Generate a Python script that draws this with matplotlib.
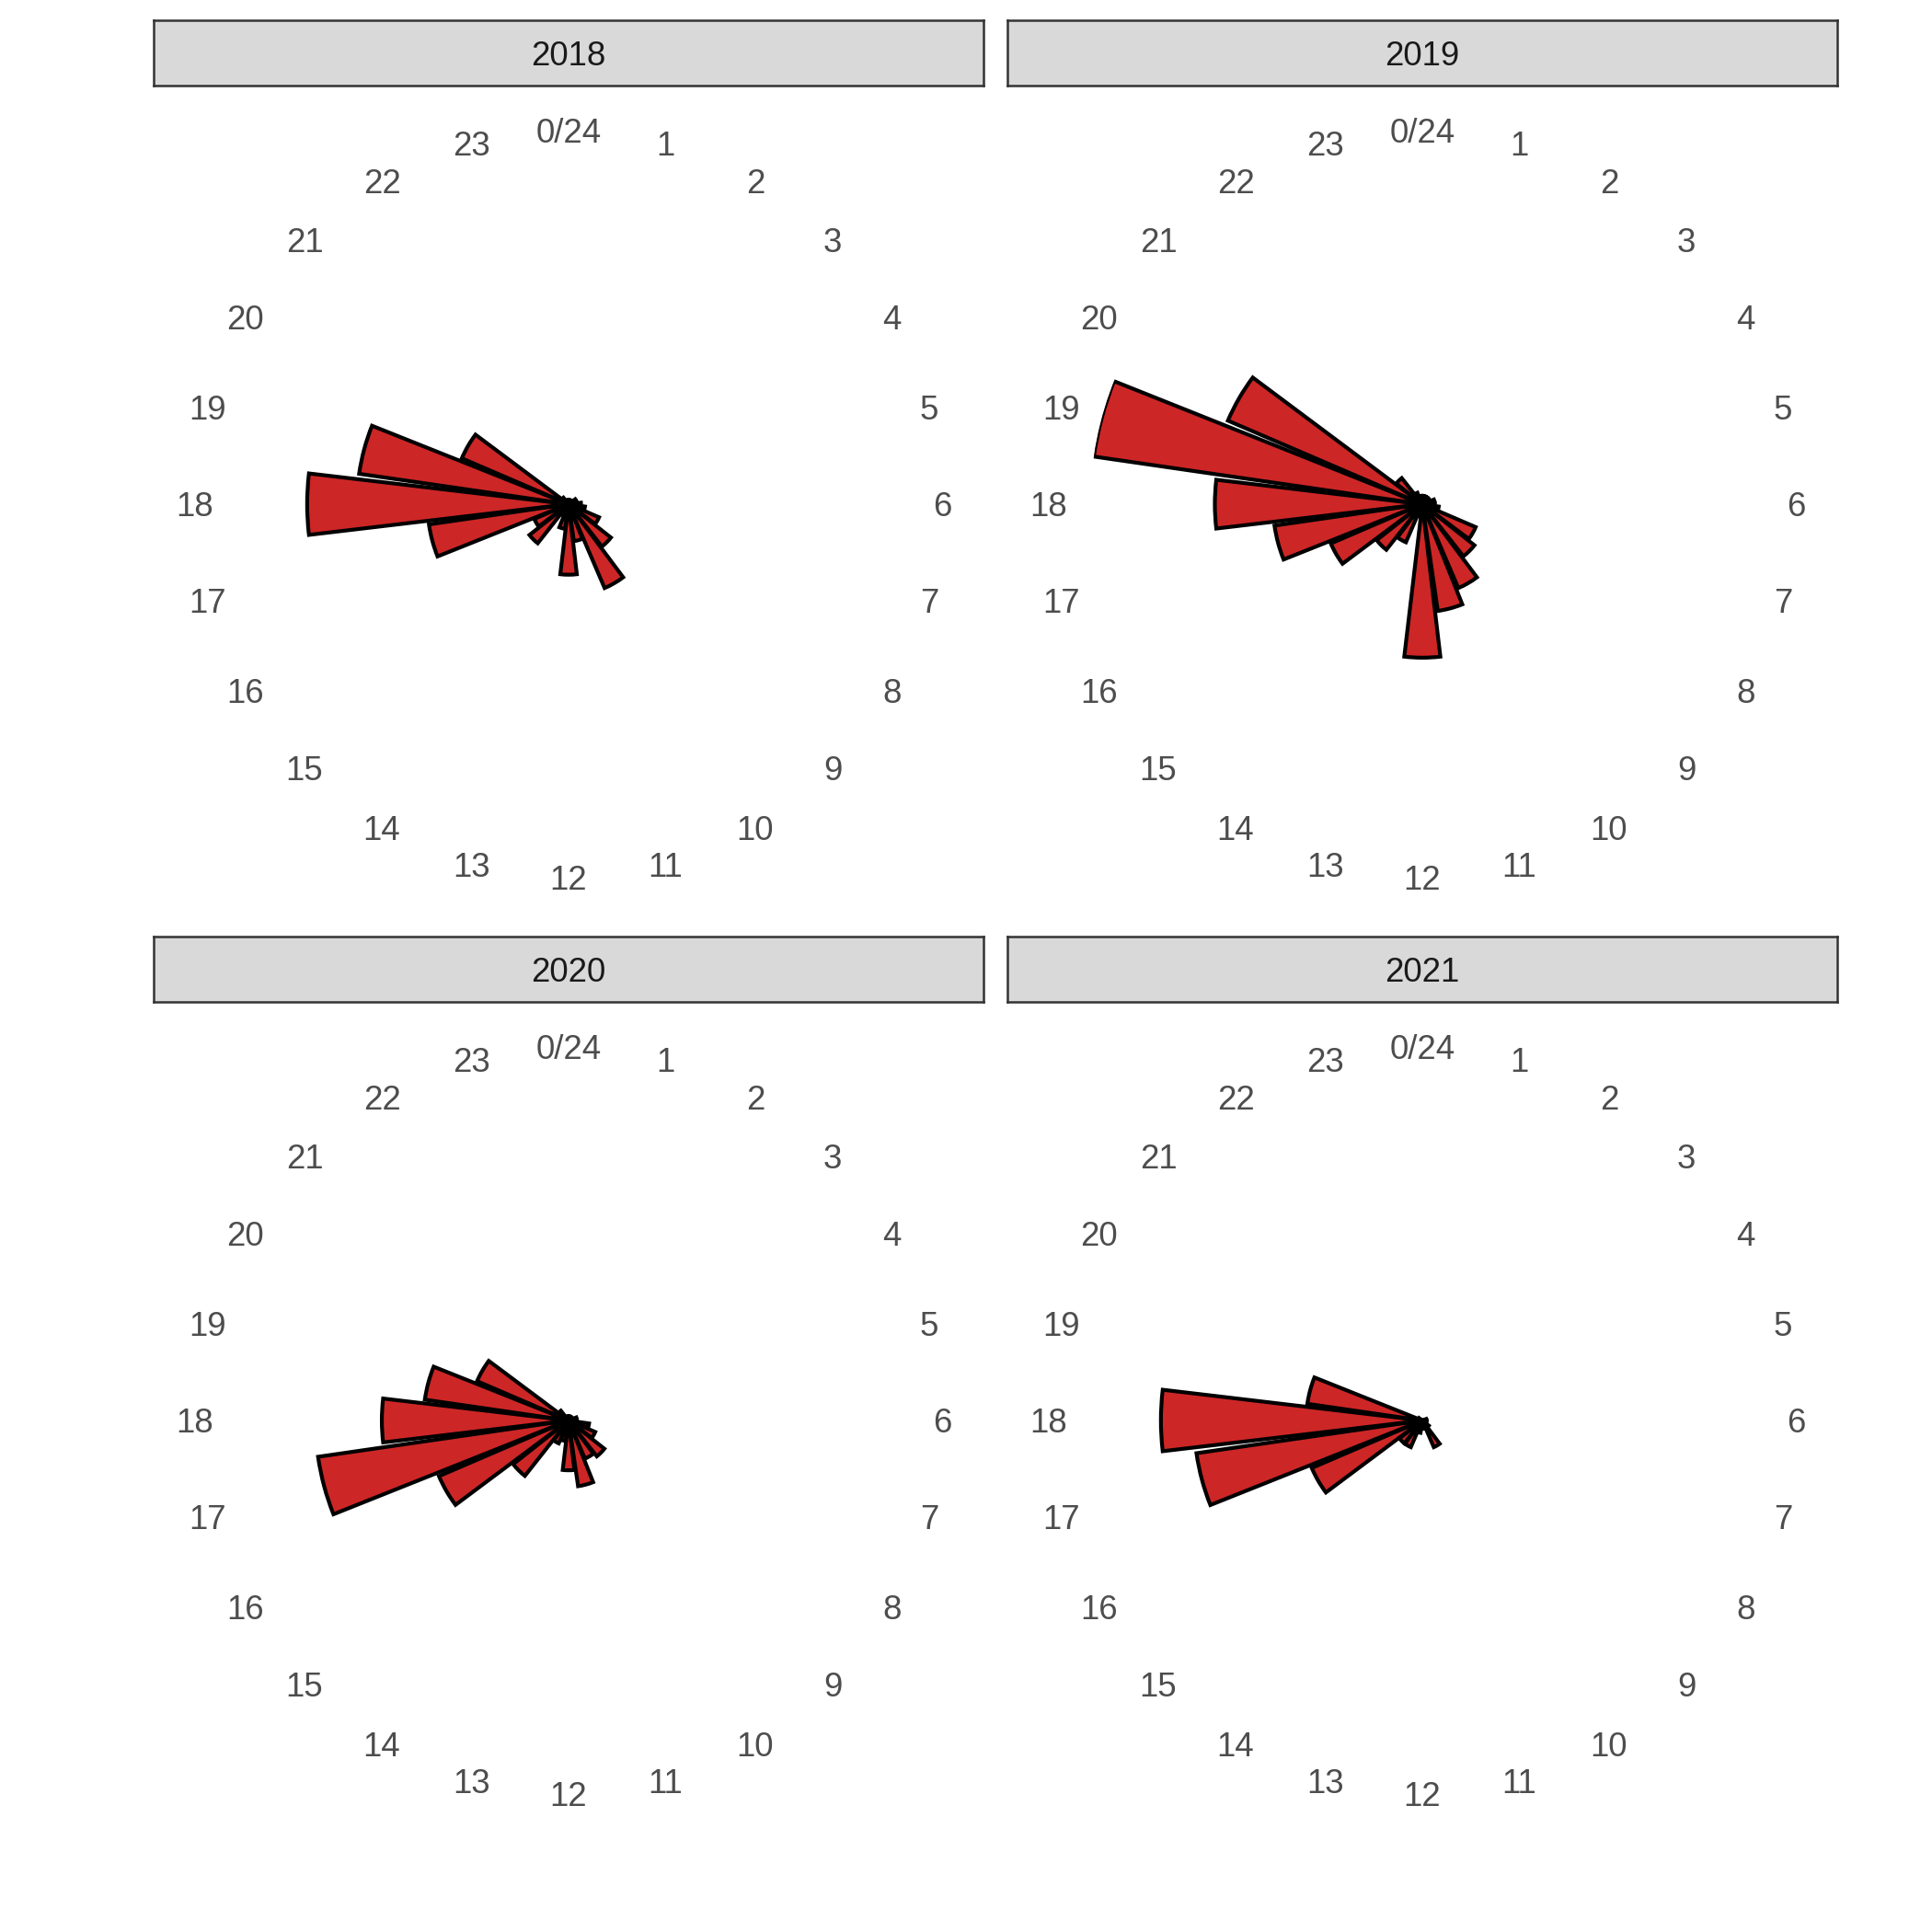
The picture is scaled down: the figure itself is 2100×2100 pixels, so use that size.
import matplotlib.pyplot as plt
import matplotlib.transforms as mtransforms
import numpy as np

plt.rcParams['font.family'] = ['Liberation Sans', 'DejaVu Sans']

# hourly counts per year (hour 0..23)
hours = np.arange(24)
hour_labels = ['0/24'] + [str(h) for h in range(1, 24)]
years = ['2018', '2019', '2020', '2021']

counts_2018 = [1, 1, 1, 1, 2, 2, 3, 4, 8, 13, 22, 9, 17, 6, 3, 12, 9, 34, 63, 51, 28, 2, 1, 1]
counts_2019 = [2, 2, 2, 2, 2, 3, 3, 4, 14, 16, 22, 26, 37, 3, 10, 14, 24, 36, 50, 80, 51, 8, 3, 2]
counts_2020 = [1, 1, 1, 1, 1, 2, 2, 5, 7, 11, 10, 16, 12, 5, 6, 17, 34, 61, 45, 35, 24, 3, 1, 1]
counts_2021 = [0, 0, 0, 0, 0, 1, 1, 1, 1, 2, 7, 1, 2, 3, 7, 7, 29, 55, 63, 28, 1, 0, 0, 0]

all_counts = [counts_2018, counts_2019, counts_2020, counts_2021]
ymax = max(max(c) for c in all_counts)

fig = plt.figure(figsize=(7, 7), dpi=300)

# panel geometry in figure fractions
W = 902 / 2100
lefts = [167 / 2100, 1095 / 2100]
strip_tops = [22 / 2100, 1018 / 2100]
strip_h = 71 / 2100
gap = 4 / 2100

theta = hours * 2 * np.pi / 24
bar_w = 0.9 * 2 * np.pi / 24
fs = 8.8
half_cap = 0.716 * fs / 2  # points

for i, (year, counts) in enumerate(zip(years, all_counts)):
    col = i % 2
    row = i // 2
    x0 = lefts[col]
    strip_bottom = 1 - strip_tops[row] - strip_h
    y0 = strip_bottom - gap - W

    # strip on top of the panel
    sax = fig.add_axes([x0, strip_bottom, W, strip_h])
    sax.set_facecolor('#D9D9D9')
    sax.set_xticks([])
    sax.set_yticks([])
    for sp in sax.spines.values():
        sp.set_color('#333333')
        sp.set_linewidth(0.6)
    strip_tr = mtransforms.offset_copy(sax.transAxes, fig=fig, y=-half_cap, units='points')
    sax.text(0.5, 0.5, year, ha='center', va='baseline', fontsize=fs, color='#1A1A1A',
             transform=strip_tr)

    # polar rose
    d = 0.8 * W
    ax = fig.add_axes([x0 + 0.1 * W, y0 + 0.1 * W, d, d], projection='polar')
    ax.set_theta_zero_location('N')
    ax.set_theta_direction(-1)
    ax.bar(theta, counts, width=bar_w, bottom=0, align='center',
           color='#CD2626', edgecolor='black', linewidth=1.0)
    ax.set_ylim(0, ymax)
    ax.axis('off')

    lab_tr = mtransforms.offset_copy(ax.transData, fig=fig, y=-half_cap, units='points')
    for t, lab in zip(theta, hour_labels):
        ax.text(t, 1.125 * ymax, lab, ha='center', va='baseline', fontsize=fs,
                color='#4D4D4D', clip_on=False, transform=lab_tr)

fig.savefig('out.png', dpi=300, facecolor='white')
